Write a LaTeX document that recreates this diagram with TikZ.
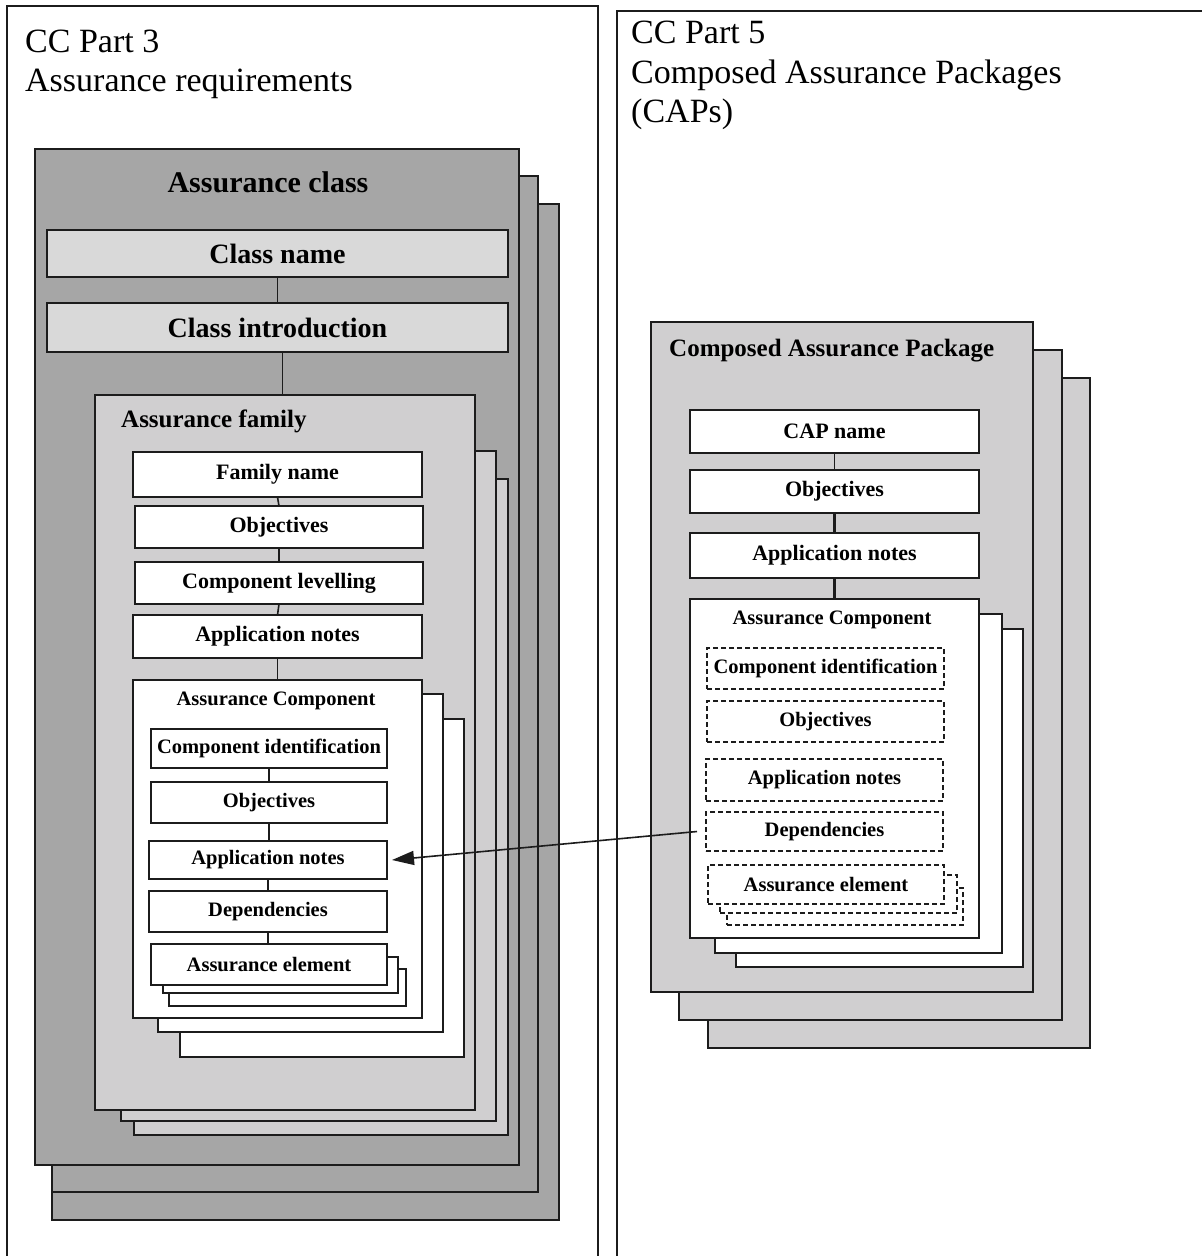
\documentclass[tikz,border=0pt]{standalone}
\usepackage{fontspec}
\setmainfont{Liberation Serif}
\usetikzlibrary{arrows.meta}
\definecolor{classgray}{HTML}{A6A6A6}
\definecolor{famgray}{HTML}{D0CFD0}
\definecolor{namegray}{HTML}{D9D9D9}
\definecolor{ink}{HTML}{1C1C1C}

% box from its top-left and bottom-right corners (picture units = px)
\newcommand\placebox[7]{%
  \node[#1, anchor=north west, minimum width={(#5-#3)*1pt},
        minimum height={(#6-#4)*1pt}] (#2) at (#3,#4) {#7};}

\tikzset{
  frame/.style={draw=ink, line width=1.4pt},
  base/.style={rectangle, draw=ink, line width=1.6pt, inner sep=0pt, outer sep=0pt, text=black},
  classbox/.style={base, fill=classgray},
  fambox/.style={base, fill=famgray},
  namebox/.style={base, fill=namegray, font=\fontsize{28}{32}\selectfont\bfseries},
  itembox/.style={base, fill=white, font=\fontsize{22}{26}\selectfont\bfseries},
  compbox/.style={base, fill=white},
  subbox/.style={base, fill=white, font=\fontsize{20.5}{24}\selectfont\bfseries},
  dashbox/.style={subbox, dash pattern=on 5pt off 3pt},
  heading/.style={inner sep=0pt, font=\fontsize{34}{40}\selectfont},
  link/.style={draw=ink, line width=1.6pt},
  thicklink/.style={draw=ink, line width=2.8pt},
}

\begin{document}
\begin{tikzpicture}[x=1pt, y=-1pt]
\useasboundingbox (0,0) rectangle (1202,1256);

% ---- the two parts of the standard ----
\draw[frame] (7,1262) -- (7,6) -- (598,6) -- (598,1262);
\draw[frame] (617,1262) -- (617,11) -- (1206,11);
\node[heading, anchor=base west] (p3a) at (25,52) {CC Part 3};
\node[heading, anchor=base west] (p3b) at (25,91) {Assurance requirements};
\node[heading, anchor=base west] (p5a) at (631,43) {CC Part 5};
\node[heading, anchor=base west] (p5b) at (631,83) {Composed Assurance Packages};
\node[heading, anchor=base west] (p5c) at (631,122) {(CAPs)};

% ---- assurance class stack ----
\placebox{classbox}{cls3}{52}{204}{559}{1220}{}
\placebox{classbox}{cls2}{52}{176}{538}{1192}{}
\placebox{classbox}{cls1}{35}{149}{519}{1165}{}
\node[inner sep=0pt, font=\fontsize{30}{34}\selectfont\bfseries, anchor=base] (clsT) at (268,192) {Assurance class};
\placebox{namebox}{cname}{47}{230}{508}{277}{Class name}
\placebox{namebox}{cintro}{47}{303}{508}{352}{Class introduction}

% ---- assurance family stack ----
\placebox{fambox}{fam3}{134}{479}{508}{1135}{}
\placebox{fambox}{fam2}{121}{451}{496}{1121}{}
\placebox{fambox}{fam1}{95}{395}{475}{1110}{}
\node[inner sep=0pt, font=\fontsize{25}{30}\selectfont\bfseries, anchor=base west] (famT) at (121,427) {Assurance family};
\placebox{itembox}{fname}{133}{452}{422}{497}{Family name}
\placebox{itembox}{fobj}{135}{506}{423}{548}{Objectives}
\placebox{itembox}{flev}{135}{562}{423}{604}{Component levelling}
\placebox{itembox}{fapp}{133}{615}{422}{658}{Application notes}

% ---- assurance component stack (Part 3) ----
\placebox{compbox}{comp3}{180}{719}{464}{1057}{}
\placebox{compbox}{comp2}{158}{694}{443}{1032}{}
\placebox{compbox}{comp1}{133}{680}{422}{1018}{}
\node[inner sep=0pt, font=\fontsize{20.5}{24}\selectfont\bfseries, anchor=base] (compT) at (276,705) {Assurance Component};
\placebox{subbox}{cid}{151}{729}{387}{768}{Component identification}
\placebox{subbox}{cobj}{151}{782}{387}{823}{Objectives}
\placebox{subbox}{capp}{149}{841}{387}{879}{Application notes}
\placebox{subbox}{cdep}{149}{891}{387}{932}{Dependencies}
\placebox{subbox}{el3}{169}{969}{406}{1006}{}
\placebox{subbox}{el2}{163}{957}{398}{993}{}
\placebox{subbox}{el1}{151}{944}{387}{985}{Assurance element}

% ---- composed assurance package stack ----
\placebox{fambox}{cap3}{708}{378}{1090}{1048}{}
\placebox{fambox}{cap2}{679}{350}{1062}{1020}{}
\placebox{fambox}{cap1}{651}{322}{1033}{992}{}
\node[inner sep=0pt, font=\fontsize{25}{30}\selectfont\bfseries, anchor=base west] (capT) at (669,356) {Composed Assurance Package};
\placebox{itembox}{capname}{690}{410}{979}{453}{CAP name}
\placebox{itembox}{robj}{690}{470}{979}{513}{Objectives}
\placebox{itembox}{rapp}{690}{533}{979}{578}{Application notes}

% ---- assurance component stack (Part 5) ----
\placebox{compbox}{rc3}{736}{629}{1023}{967}{}
\placebox{compbox}{rc2}{715}{614}{1002}{953}{}
\placebox{compbox}{rc1}{690}{599}{979}{938}{}
\node[inner sep=0pt, font=\fontsize{20.5}{24}\selectfont\bfseries, anchor=base] (rcT) at (832,624) {Assurance Component};
\placebox{dashbox}{rid}{707}{648}{944}{689}{Component identification}
\placebox{dashbox}{robj2}{707}{701}{944}{742}{Objectives}
\placebox{dashbox}{rapp2}{706}{759}{943}{801}{Application notes}
\placebox{dashbox}{rdep}{706}{812}{943}{851}{Dependencies}
\placebox{dashbox}{rel3}{727}{888}{963}{925}{}
\placebox{dashbox}{rel2}{720}{875}{957}{913}{}
\placebox{dashbox}{rel1}{708}{865}{944}{904}{Assurance element}

% ---- connectors ----
\draw[link] (cname.south) -- (cintro.north);
\draw[link] ([xshift=5pt]cintro.south) -- ([xshift=5pt]cintro.south |- fam1.north);
\draw[link] (fname.south) -- (fobj.north);
\draw[link] (fobj.south) -- (flev.north);
\draw[link] (flev.south) -- (fapp.north);
\draw[link] (fapp.south) -- (fapp.south |- comp1.north);
\draw[link] (cid.south) -- (cobj.north);
\draw[link] (cobj.south) -- (cobj.south |- capp.north);
\draw[link] (capp.south) -- (capp.south |- cdep.north);
\draw[link] (cdep.south) -- (cdep.south |- el1.north);
\draw[link] (capname.south) -- (robj.north);
\draw[thicklink] (robj.south) -- (rapp.north);
\draw[thicklink] (rapp.south) -- (rapp.south |- rc1.north);

% dependency reference from Part 5 back to Part 3
\draw[link, -{Triangle[length=22pt, width=14pt]}]
  ([xshift=-9pt]rdep.west) -- ([xshift=5pt]capp.east);
\end{tikzpicture}
\end{document}
